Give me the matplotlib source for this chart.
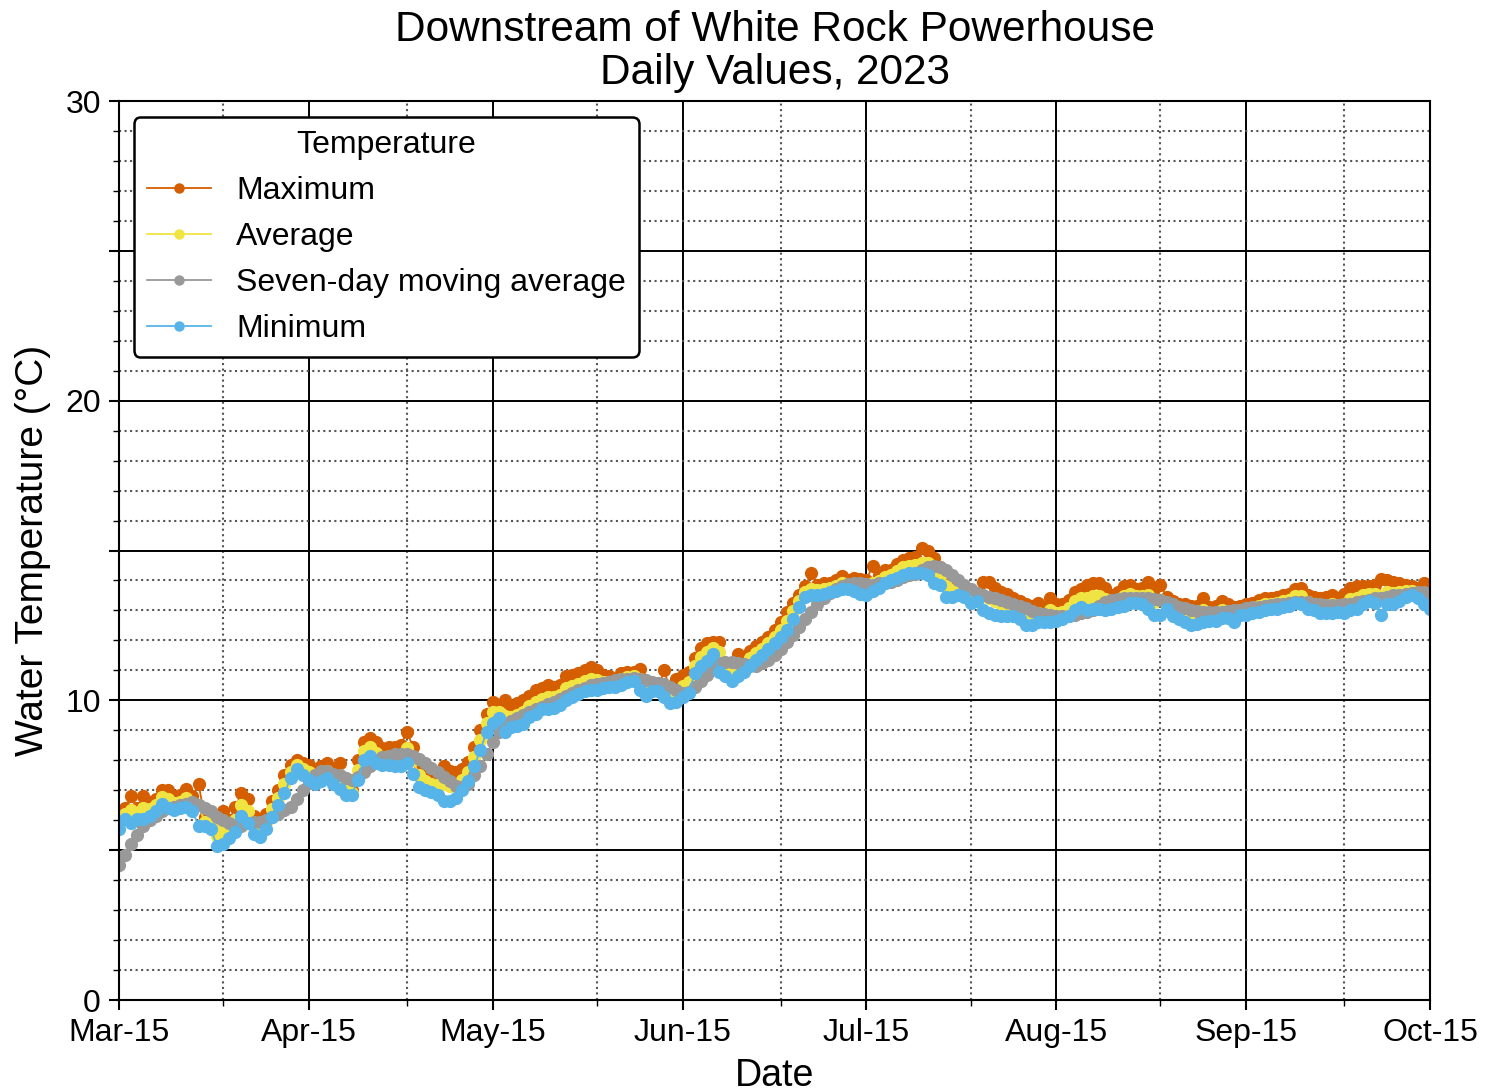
"""Downstream of White Rock Powerhouse - daily water temperature, 2023."""
import matplotlib

matplotlib.use("Agg")
import matplotlib.dates as mdates
import matplotlib.pyplot as plt
import numpy as np
import pandas as pd
from matplotlib.ticker import MultipleLocator, NullFormatter, FuncFormatter

plt.rcParams["font.family"] = ["Liberation Sans", "DejaVu Sans"]

# ---------------------------------------------------------------------------
# Data (one value per day, Mar-15 .. Oct-15)
# ---------------------------------------------------------------------------
start_date = "2023-03-15"

t_max = [
    6.3, 6.4, 6.8, 6.4, 6.8, 6.6, 6.7, 7.0, 7.0, 6.8,
    6.85, 7.05, 6.8, 7.2, 6.1, 5.9, 5.8, 6.3, 6.0, 6.45,
    6.9, 6.7, 6.15, 6.0, 6.2, 6.65, 7.0, 7.5, 7.85, 8.0,
    7.9, 7.85, 7.7, 7.8, 7.9, 7.7, 7.9, 7.2, 7.0, 8.0,
    8.6, 8.75, 8.6, 8.4, 8.45, 8.45, 8.5, 8.95, 8.45, 7.9,
    7.6, 7.45, 7.5, 7.8, 7.65, 7.6, 7.7, 7.95, 8.45, 9.0,
    9.55, 9.95, 9.85, 10.0, 9.8, 9.9, 10.0, 10.15, 10.35, 10.4,
    10.5, 10.45, 10.5, 10.8, 10.85, 10.9, 11.0, 11.1, 11.0, 10.85,
    10.8, 10.7, 10.9, 10.95, 10.95, 11.05, 10.6, 10.5, 10.4, 11.0,
    10.3, 10.7, 10.85, 10.95, 11.4, 11.75, 11.9, 11.95, 11.95, 11.2,
    11.05, 11.55, 11.2, 11.65, 11.8, 11.95, 12.1, 12.35, 12.6, 12.95,
    13.25, 13.5, 13.8, 14.25, 13.85, 13.9, 13.9, 14.0, 14.15, 14.0,
    14.1, 14.05, 14.0, 14.5, 14.2, 14.35, 14.35, 14.55, 14.7, 14.75,
    14.8, 15.1, 15.0, 14.75, 14.45, 14.2, 13.9, 13.75, 13.6, 13.55,
    13.5, 13.95, 13.95, 13.75, 13.6, 13.55, 13.4, 13.3, 13.2, 13.15,
    13.25, 13.1, 13.4, 13.2, 13.2, 13.35, 13.6, 13.7, 13.85, 13.9,
    13.9, 13.75, 13.5, 13.6, 13.8, 13.85, 13.7, 13.75, 13.95, 13.7,
    13.85, 13.45, 13.3, 13.2, 13.2, 13.15, 13.15, 13.4, 13.1, 13.15,
    13.3, 13.2, 13.1, 13.15, 13.2, 13.25, 13.35, 13.4, 13.4, 13.45,
    13.5, 13.55, 13.7, 13.75, 13.5, 13.45, 13.4, 13.45, 13.5, 13.4,
    13.55, 13.75, 13.8, 13.8, 13.8, 13.85, 14.05, 14.0, 13.95, 13.9,
    13.85, 13.8, 13.75, 13.9, 13.65,
]

t_avg = [
    6.0, 6.22, 6.35, 6.22, 6.42, 6.38, 6.5, 6.78, 6.7, 6.58,
    6.62, 6.75, 6.55, 6.5, 5.95, 5.8, 5.48, 5.75, 5.7, 6.02,
    6.52, 6.3, 5.85, 5.72, 5.95, 6.38, 6.75, 7.2, 7.62, 7.85,
    7.7, 7.6, 7.45, 7.55, 7.65, 7.45, 7.48, 7.02, 6.92, 7.68,
    8.3, 8.45, 8.25, 8.12, 8.15, 8.12, 8.15, 8.42, 8.0, 7.5,
    7.3, 7.2, 7.18, 7.22, 7.15, 7.18, 7.35, 7.62, 8.12, 8.68,
    9.25, 9.6, 9.62, 9.48, 9.45, 9.52, 9.6, 9.8, 9.95, 10.05,
    10.1, 10.1, 10.18, 10.4, 10.48, 10.55, 10.65, 10.72, 10.68, 10.62,
    10.62, 10.58, 10.7, 10.78, 10.8, 10.7, 10.38, 10.4, 10.35, 10.4,
    10.1, 10.32, 10.48, 10.6, 11.15, 11.45, 11.6, 11.75, 11.6, 11.0,
    10.85, 11.1, 11.08, 11.4, 11.58, 11.72, 11.9, 12.12, 12.35, 12.65,
    12.98, 13.3, 13.62, 13.7, 13.68, 13.72, 13.75, 13.82, 13.92, 13.85,
    13.88, 13.8, 13.75, 13.9, 13.98, 14.12, 14.18, 14.32, 14.45, 14.5,
    14.52, 14.6, 14.6, 14.32, 14.15, 13.82, 13.68, 13.62, 13.52, 13.4,
    13.4, 13.48, 13.42, 13.3, 13.2, 13.18, 13.1, 13.0, 12.85, 12.82,
    12.92, 12.85, 13.0, 12.92, 12.95, 13.08, 13.3, 13.4, 13.42, 13.48,
    13.48, 13.38, 13.28, 13.35, 13.48, 13.55, 13.48, 13.48, 13.5, 13.28,
    13.35, 13.25, 13.05, 12.95, 12.9, 12.82, 12.85, 13.0, 12.88, 12.9,
    13.02, 12.98, 12.85, 13.0, 13.02, 13.08, 13.15, 13.2, 13.22, 13.25,
    13.3, 13.35, 13.48, 13.48, 13.28, 13.22, 13.15, 13.18, 13.2, 13.18,
    13.22, 13.38, 13.42, 13.5, 13.55, 13.55, 13.45, 13.6, 13.58, 13.6,
    13.65, 13.65, 13.58, 13.55, 13.35,
]

t_ma7 = [
    4.5, 4.85, 5.2, 5.5, 5.8, 6.0, 6.15, 6.3, 6.4, 6.45,
    6.5, 6.55, 6.6, 6.5, 6.4, 6.3, 6.1, 6.0, 5.9, 5.85,
    5.8, 5.9, 5.95, 5.95, 6.0, 6.1, 6.2, 6.35, 6.45, 6.7,
    7.0, 7.25, 7.5, 7.65, 7.65, 7.55, 7.5, 7.4, 7.35, 7.45,
    7.6, 7.8, 7.95, 8.1, 8.15, 8.2, 8.2, 8.2, 8.15, 8.05,
    7.9, 7.75, 7.6, 7.45, 7.3, 7.15, 7.1, 7.2, 7.5, 7.8,
    8.2, 8.6, 8.95, 9.15, 9.3, 9.4, 9.5, 9.6, 9.7, 9.78,
    9.88, 9.95, 10.05, 10.15, 10.25, 10.33, 10.42, 10.5, 10.55, 10.58,
    10.62, 10.67, 10.7, 10.72, 10.74, 10.72, 10.67, 10.62, 10.58, 10.55,
    10.45, 10.33, 10.23, 10.28, 10.45, 10.65, 10.85, 11.05, 11.25, 11.28,
    11.28, 11.26, 11.22, 11.18, 11.15, 11.25, 11.35, 11.5, 11.73, 11.96,
    12.18, 12.46, 12.7, 12.96, 13.2, 13.4, 13.57, 13.7, 13.8, 13.87,
    13.9, 13.9, 13.88, 13.86, 13.9, 13.92, 13.96, 14.03, 14.12, 14.18,
    14.23, 14.34, 14.45, 14.48, 14.46, 14.34, 14.18, 14.01, 13.84, 13.7,
    13.59, 13.51, 13.46, 13.4, 13.34, 13.29, 13.21, 13.14, 13.07, 12.99,
    12.92, 12.88, 12.84, 12.83, 12.81, 12.81, 12.84, 12.9, 12.96, 13.01,
    13.15, 13.28, 13.35, 13.38, 13.4, 13.42, 13.42, 13.42, 13.4, 13.38,
    13.34, 13.28, 13.2, 13.12, 13.07, 13.01, 12.98, 12.96, 12.95, 12.95,
    12.96, 12.97, 13.0, 13.03, 13.07, 13.1, 13.12, 13.15, 13.18, 13.2,
    13.23, 13.26, 13.29, 13.29, 13.27, 13.23, 13.2, 13.18, 13.18, 13.18,
    13.2, 13.23, 13.27, 13.31, 13.35, 13.4, 13.43, 13.46, 13.5, 13.53,
    13.56, 13.57, 13.6, 13.6, 13.53,
]

t_min = [
    5.7, 6.05, 5.9, 6.05, 6.05, 6.15, 6.3, 6.55, 6.4, 6.35,
    6.4, 6.45, 6.3, 5.8, 5.8, 5.7, 5.15, 5.2, 5.4, 5.6,
    6.15, 5.9, 5.55, 5.45, 5.7, 6.1, 6.5, 6.9, 7.4, 7.7,
    7.5, 7.35, 7.2, 7.3, 7.4, 7.2, 7.05, 6.85, 6.85, 7.35,
    8.0, 8.15, 7.9, 7.85, 7.85, 7.8, 7.8, 7.9, 7.55, 7.1,
    7.0, 6.95, 6.85, 6.65, 6.65, 6.75, 7.0, 7.3, 7.8, 8.35,
    8.95, 9.25, 9.4, 8.95, 9.1, 9.15, 9.2, 9.45, 9.55, 9.7,
    9.7, 9.75, 9.85, 10.0, 10.1, 10.2, 10.3, 10.35, 10.35, 10.4,
    10.45, 10.45, 10.5, 10.6, 10.65, 10.35, 10.15, 10.3, 10.3, 10.1,
    9.9, 9.95, 10.1, 10.25, 10.9, 11.15, 11.3, 11.55, 10.95, 10.8,
    10.65, 10.8, 10.95, 11.15, 11.35, 11.5, 11.7, 11.9, 12.1, 12.35,
    12.7, 13.1, 13.45, 13.5, 13.5, 13.55, 13.6, 13.65, 13.7, 13.7,
    13.65, 13.55, 13.5, 13.65, 13.75, 13.9, 14.0, 14.1, 14.2, 14.25,
    14.25, 14.25, 14.2, 13.9, 13.85, 13.45, 13.45, 13.5, 13.45, 13.25,
    13.3, 13.0, 12.9, 12.85, 12.8, 12.8, 12.8, 12.7, 12.5, 12.5,
    12.6, 12.6, 12.6, 12.65, 12.7, 12.8, 13.0, 13.1, 13.0, 13.05,
    13.05, 13.0, 13.05, 13.1, 13.15, 13.25, 13.25, 13.2, 13.05, 12.85,
    12.85, 13.05, 12.8, 12.7, 12.6, 12.5, 12.55, 12.6, 12.65, 12.65,
    12.75, 12.75, 12.6, 12.85, 12.85, 12.9, 12.95, 13.0, 13.05, 13.05,
    13.1, 13.15, 13.25, 13.2, 13.05, 13.0, 12.9, 12.9, 12.9, 12.95,
    12.9, 13.0, 13.05, 13.2, 13.3, 13.25, 12.85, 13.2, 13.2, 13.3,
    13.45, 13.5, 13.4, 13.2, 13.05,
]

series_labels = ["Maximum", "Average", "Seven-day moving average", "Minimum"]
series_colors = ["#D55E00", "#F0E442", "#999999", "#56B4E9"]

dates = pd.date_range(start_date, periods=len(t_max), freq="D")

# ---------------------------------------------------------------------------
# Plot
# ---------------------------------------------------------------------------
fig = plt.figure(figsize=(14.87, 10.92), dpi=100)
ax = fig.add_axes([0.080, 0.0842, 0.8817, 0.8233])

for vals, label, color in zip([t_max, t_avg, t_ma7, t_min], series_labels, series_colors):
    ax.plot(dates, vals, color=color, marker="o", markersize=8.5,
            linewidth=1.3, label=label)

ax.set_xlim(pd.Timestamp("2023-03-15"), pd.Timestamp("2023-10-15"))
ax.set_ylim(0, 30)

# x: major on the 15th, minor on the 1st
ax.xaxis.set_major_locator(mdates.DayLocator(bymonthday=15))
ax.xaxis.set_major_formatter(mdates.DateFormatter("%b-%d"))
ax.xaxis.set_minor_locator(mdates.DayLocator(bymonthday=1))

# y: major every 5 (labels every 10), minor every 1
ax.yaxis.set_major_locator(MultipleLocator(5))
ax.yaxis.set_major_formatter(FuncFormatter(lambda v, _: f"{v:.0f}" if v % 10 == 0 else ""))
ax.yaxis.set_minor_locator(MultipleLocator(1))
ax.yaxis.set_minor_formatter(NullFormatter())

ax.grid(which="major", color="black", linestyle="-", linewidth=1.4)
ax.grid(which="minor", color="#555555", linestyle=":", linewidth=1.5)
ax.set_axisbelow(True)

for s in ax.spines.values():
    s.set_linewidth(1.5)
ax.tick_params(which="major", direction="out", length=7, width=1.5, labelsize=23, pad=6)
ax.tick_params(which="minor", direction="out", length=4, width=1.0)

ax.set_xlabel("Date", fontsize=27, labelpad=7)
ax.set_ylabel("Water Temperature (°C)", fontsize=28, labelpad=10)
ax.set_title("Downstream of White Rock Powerhouse\nDaily Values, 2023",
             fontsize=30.5, linespacing=1.12, pad=12)

leg = ax.legend(title="Temperature", loc="upper left", fontsize=23, title_fontsize=23,
                frameon=True, fancybox=True, framealpha=1, edgecolor="black",
                handlelength=2.0, handletextpad=0.8, borderpad=0.4,
                labelspacing=0.5, borderaxespad=0,
                bbox_to_anchor=(0.0114, 0.982))
leg.get_frame().set_linewidth(1.8)
for h in leg.legend_handles:
    h.set_markersize(6.5)

fig.savefig("out.png", dpi=100)
plt.close(fig)
